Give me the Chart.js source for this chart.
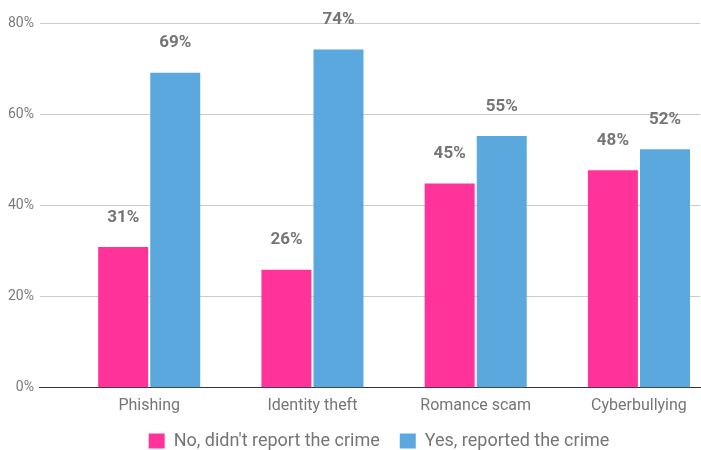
<!DOCTYPE html>
<html>
<head>
<meta charset="utf-8">
<script src="https://cdn.jsdelivr.net/npm/chart.js@4"></script>
<style>
  html, body { margin: 0; padding: 0; background: #fff; }
  #wrap { width: 701px; height: 450px; }
</style>
</head>
<body>
<div id="wrap"><canvas id="chart"></canvas></div>
<script>
const categories = ['Phishing', 'Identity theft', 'Romance scam', 'Cyberbullying'];
const notReported = [30.9, 25.9, 44.8, 47.7];
const reported = [69.1, 74.2, 55.2, 52.3];
const seriesNames = ["No, didn't report the crime", 'Yes, reported the crime'];
const yTicks = [0, 20, 40, 60, 80];

const textGray = '#757575';

// value labels above each bar
const barLabels = {
  id: 'barLabels',
  afterDatasetsDraw(chart) {
    const ctx = chart.ctx;
    ctx.save();
    ctx.font = 'bold 17px Roboto, sans-serif';
    ctx.fillStyle = textGray;
    ctx.textAlign = 'center';
    ctx.textBaseline = 'middle';
    chart.data.datasets.forEach((ds, i) => {
      chart.getDatasetMeta(i).data.forEach((bar, j) => {
        ctx.fillText(Math.round(ds.data[j].y) + '%', bar.x, bar.y - 29.5);
      });
    });
    ctx.restore();
  }
};

// nudge the legend: closer to the axis labels, a bit right of centre
const legendShift = {
  id: 'legendShift',
  afterLayout(chart) {
    const lg = chart.legend;
    if (lg) {
      lg.top -= 12;
      lg.bottom -= 12;
      lg.left += 28;
      lg.right += 28;
    }
  }
};

new Chart(document.getElementById('chart'), {
  type: 'bar',
  data: {
    datasets: [
      {
        label: seriesNames[0],
        data: notReported.map((v, i) => ({ x: i, y: v })),
        backgroundColor: '#ff3399',
      },
      {
        label: seriesNames[1],
        data: reported.map((v, i) => ({ x: i, y: v })),
        backgroundColor: '#5ba8de',
      },
    ],
  },
  options: {
    responsive: true,
    maintainAspectRatio: false,
    animation: false,
    categoryPercentage: 0.638,
    barPercentage: 0.96,
    layout: { padding: { top: 23, left: 2, right: 1, bottom: -22 } },
    scales: {
      x: {
        type: 'linear',
        offset: false,
        min: -0.669,
        max: 3.374,
        grid: { display: false, drawTicks: false },
        border: { color: '#333', width: 1 },
        ticks: {
          stepSize: 1,
          includeBounds: false,
          autoSkip: false,
          maxRotation: 0,
          padding: 8.5,
          color: textGray,
          font: { family: 'Roboto', size: 16 },
          callback: (v) => categories[v] ?? '',
        },
      },
      y: {
        min: 0,
        max: 80,
        afterBuildTicks: (scale) => { scale.ticks = yTicks.map(v => ({ value: v })); },
        grid: { color: '#cccccc', drawTicks: false },
        border: { display: false },
        ticks: {
          padding: 6,
          color: '#7a7a7a',
          font: { family: 'Roboto', size: 14 },
          callback: (v) => v + '%',
        },
      },
    },
    plugins: {
      legend: {
        position: 'bottom',
        labels: {
          boxWidth: 16,
          boxHeight: 15,
          padding: 20,
          color: textGray,
          font: { family: 'Roboto', size: 18 },
        },
      },
      tooltip: { enabled: false },
    },
  },
  plugins: [barLabels, legendShift],
});
</script>
</body>
</html>
